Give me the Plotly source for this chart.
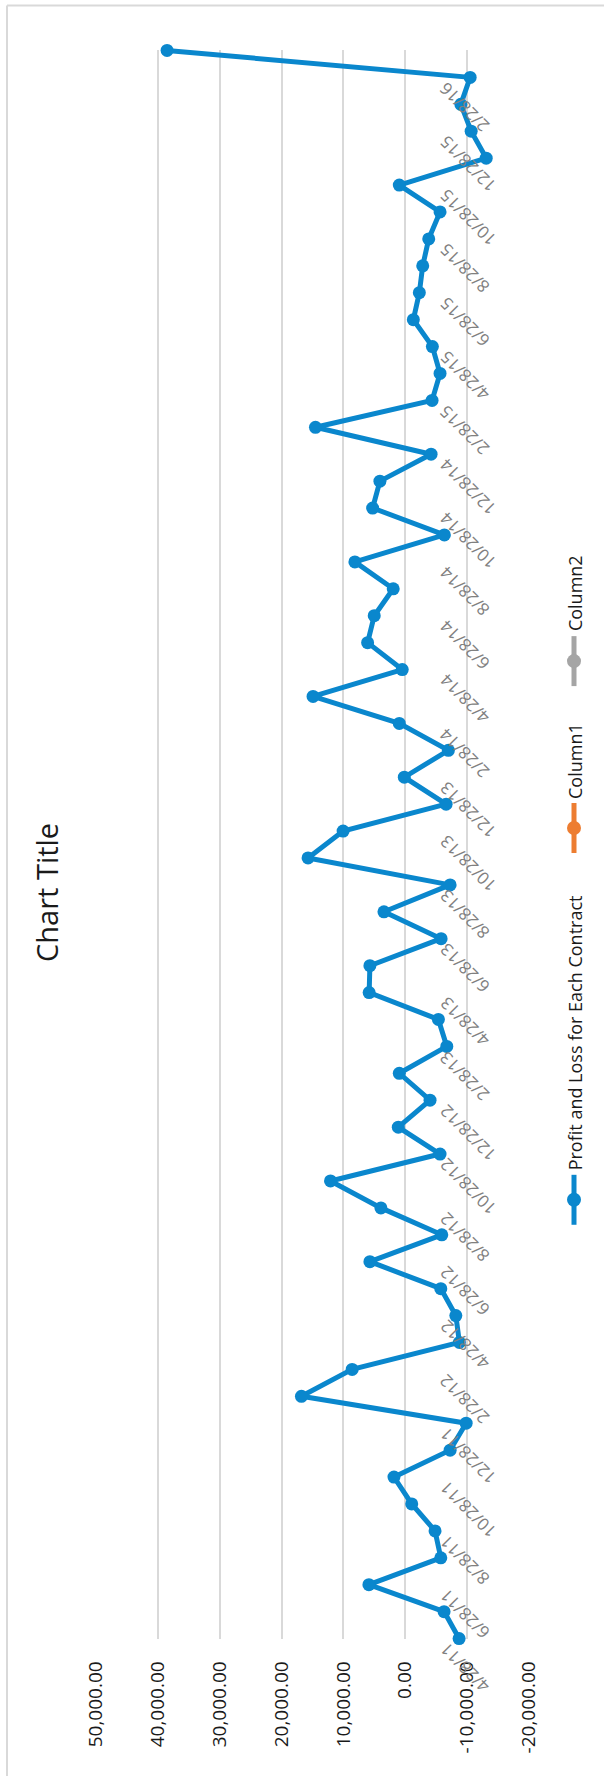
import plotly.graph_objects as go

# ---- data -------------------------------------------------------------
contract_dates = [
    "4/28/11", "5/28/11", "6/28/11", "7/28/11", "8/28/11", "9/28/11",
    "10/28/11", "11/28/11", "12/28/11", "1/28/12", "2/28/12", "3/28/12",
    "4/28/12", "5/28/12", "6/28/12", "7/28/12", "8/28/12", "9/28/12",
    "10/28/12", "11/28/12", "12/28/12", "1/28/13", "2/28/13", "3/28/13",
    "4/28/13", "5/28/13", "6/28/13", "7/28/13", "8/28/13", "9/28/13",
    "10/28/13", "11/28/13", "12/28/13", "1/28/14", "2/28/14", "3/28/14",
    "4/28/14", "5/28/14", "6/28/14", "7/28/14", "8/28/14", "9/28/14",
    "10/28/14", "11/28/14", "12/28/14", "1/28/15", "2/28/15", "3/28/15",
    "4/28/15", "5/28/15", "6/28/15", "7/28/15", "8/28/15", "9/28/15",
    "10/28/15", "11/28/15", "12/28/15", "1/28/16", "2/28/16", "3/28/16",
]

profit_loss = [
    -8700, -6270, 5880, -5740, -4810, -1040, 1830, -7250, -9840, 16790,
    8590, -8750, -8170, -5740, 5720, -5900, 3940, 12090, -5620, 1130,
    -4000, 970, -6710, -5350, 5840, 5720, -5790, 3450, -7250, 15720,
    10050, -6600, 160, -6970, 970, 14910, 490, 6090, 5020, 1950,
    8150, -6320, 5280, 4100, -4170, 14520, -4330, -5620, -4380, -1300,
    -2270, -2820, -3790, -5620, 970, -13080, -10650, -8980, -10490, 38510,
]

date_tick_labels = [
    "4/28/11", "6/28/11", "8/28/11", "10/28/11", "12/28/11",
    "2/28/12", "4/28/12", "6/28/12", "8/28/12", "10/28/12", "12/28/12",
    "2/28/13", "4/28/13", "6/28/13", "8/28/13", "10/28/13", "12/28/13",
    "2/28/14", "4/28/14", "6/28/14", "8/28/14", "10/28/14", "12/28/14",
    "2/28/15", "4/28/15", "6/28/15", "8/28/15", "10/28/15", "12/28/15",
    "2/28/16",
]

value_ticks = [50000, 40000, 30000, 20000, 10000, 0, -10000, -20000]
value_tick_labels = [
    "50,000.00", "40,000.00", "30,000.00", "20,000.00",
    "10,000.00", "0.00", "-10,000.00", "-20,000.00",
]
value_range = [50000, -20000]

series_names = ["Profit and Loss for Each Contract", "Column1", "Column2"]
series_colors = ["#0A87CD", "#ED7D31", "#A5A5A5"]

# ---- page geometry (the whole chart is laid out turned on its side) ----
W, H = 604, 1776
GRID_TOP, GRID_BOTTOM = 50, 1639          # extent of the value grid
n_rows = len(contract_dates)
row_pitch = (GRID_BOTTOM - GRID_TOP) / (n_rows - 1)
row_pad = row_pitch * 0.5                 # room so the end markers are not clipped

ML, MR = 96, 75
MT = GRID_TOP - row_pad
MB = H - GRID_BOTTOM - row_pad
PW = W - ML - MR
PH = H - MT - MB
FONT = "Open Sans"
GRID = "#d9d9d9"


def px_x(px):
    return (px - ML) / PW


def px_y(py):
    return (H - MB - py) / PH


fig = go.Figure()

# grid subplot: holds the value axis, its grid and tick labels
fig.add_trace(go.Scatter(
    x=[], y=[],
    xaxis="x", yaxis="y",
    mode="lines",
    showlegend=False,
    hoverinfo="skip",
))

# data sits on its own subplot, a half row larger at each end
fig.add_trace(go.Scatter(
    x=profit_loss,
    y=contract_dates,
    xaxis="x2", yaxis="y2",
    mode="lines+markers",
    name=series_names[0],
    line=dict(color=series_colors[0], width=5),
    marker=dict(color=series_colors[0], size=13),
    cliponaxis=False,
    showlegend=False,
))

annotations = []

# date labels hanging off the category axis, turned like the rest of the chart
for lab in date_tick_labels:
    annotations.append(dict(
        text=lab,
        xref="paper", x=px_x(432),
        yref="y2", y=contract_dates.index(lab),
        xanchor="left", yanchor="top",
        yshift=3,
        textangle=-135,
        showarrow=False,
        font=dict(family=FONT, size=17, color="#808080"),
    ))

# chart title
annotations.append(dict(
    text="Chart Title",
    xref="paper", x=px_x(47),
    yref="paper", y=px_y(893),
    xanchor="center", yanchor="middle",
    textangle=-90,
    showarrow=False,
    font=dict(family=FONT, size=29, color="#1a1a1a"),
))

shapes = []

# legend, running bottom to top along the right edge
legend_x = 574
legend_items = [
    # (symbol centre y, text start y)
    (1200, 1173),
    (828, 801),
    (661, 633),
]
for (name, color), (sym_y, text_y) in zip(zip(series_names, series_colors), legend_items):
    shapes.append(dict(
        type="line", xref="paper", yref="paper",
        x0=px_x(legend_x), x1=px_x(legend_x),
        y0=px_y(sym_y + 25), y1=px_y(sym_y - 25),
        line=dict(color=color, width=5),
    ))
    shapes.append(dict(
        type="circle", xref="paper", yref="paper",
        xsizemode="pixel", ysizemode="pixel",
        xanchor=px_x(legend_x), yanchor=px_y(sym_y),
        x0=-7, x1=7, y0=-7, y1=7,
        fillcolor=color, line=dict(color=color, width=0),
    ))
    annotations.append(dict(
        text=name,
        xref="paper", x=px_x(legend_x + 1),
        yref="paper", y=px_y(text_y),
        xanchor="center", yanchor="bottom",
        textangle=-90,
        showarrow=False,
        font=dict(family=FONT, size=18, color="#1a1a1a"),
    ))

# chart area border (left and top edges)
shapes.append(dict(
    type="line", xref="paper", yref="paper",
    x0=px_x(7), x1=px_x(W + 5), y0=px_y(5), y1=px_y(5),
    line=dict(color=GRID, width=2),
))
shapes.append(dict(
    type="line", xref="paper", yref="paper",
    x0=px_x(7), x1=px_x(7), y0=px_y(5), y1=px_y(H + 5),
    line=dict(color=GRID, width=2),
))

grid_domain = [row_pad / PH, 1 - row_pad / PH]

fig.update_layout(
    width=W, height=H,
    margin=dict(l=ML, r=MR, t=MT, b=MB, pad=0),
    paper_bgcolor="white",
    plot_bgcolor="rgba(0,0,0,0)",
    showlegend=False,
    annotations=annotations,
    shapes=shapes,
    # value axis with its grid, spanning the date range only
    xaxis=dict(
        range=value_range,
        anchor="y",
        tickmode="array",
        tickvals=value_ticks,
        ticktext=value_tick_labels,
        tickangle=-90,
        ticks="",
        ticklabelstandoff=18,
        tickfont=dict(family=FONT, size=19, color="#1a1a1a"),
        showgrid=True, gridcolor=GRID, gridwidth=1.6,
        zeroline=False, showline=False,
    ),
    yaxis=dict(
        domain=grid_domain,
        anchor="x",
        range=[0, 1],
        showticklabels=False, ticks="",
        showgrid=False, zeroline=False, showline=False,
    ),
    # axes carrying the line itself
    xaxis2=dict(
        range=value_range,
        anchor="y2",
        showticklabels=False, ticks="",
        showgrid=False, zeroline=False, showline=False,
    ),
    yaxis2=dict(
        domain=[0, 1],
        anchor="x2",
        type="category",
        categoryorder="array",
        categoryarray=contract_dates,
        range=[-0.5, n_rows - 0.5],
        showticklabels=False, ticks="",
        showgrid=False, zeroline=False, showline=False,
    ),
)

fig.write_html("out.html")
